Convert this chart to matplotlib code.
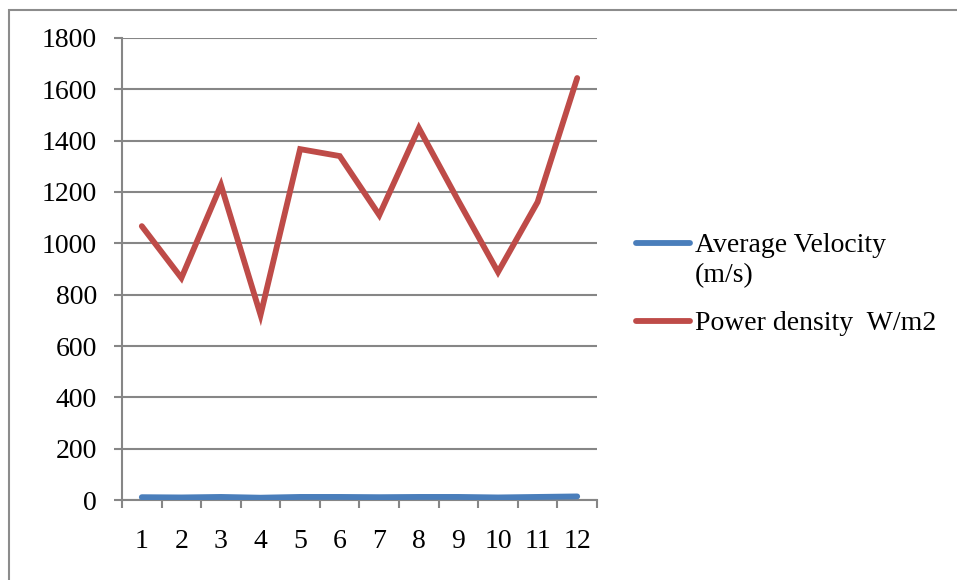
import matplotlib
matplotlib.use('Agg')
import matplotlib.pyplot as plt
from matplotlib.lines import Line2D
from matplotlib.patches import Rectangle
import numpy as np

plt.rcParams['font.family'] = ['Liberation Serif', 'DejaVu Serif']

months = [1, 2, 3, 4, 5, 6, 7, 8, 9, 10, 11, 12]
avg_velocity = [11, 10, 12, 9, 12, 12, 11, 12, 12, 10, 12, 14]
power_density = [1067, 865, 1227, 721, 1367, 1340, 1110, 1449, 1165, 888, 1161, 1644]
series_labels = ['Average Velocity\n(m/s)', 'Power density  W/m2']
series_colors = ['#4a7ebb', '#be4b48']

grid_grey = '#868686'
fs = 20

fig = plt.figure(figsize=(9.57, 5.8), dpi=100)
ax = fig.add_axes([0.1275, 0.1379, 0.4963, 0.7966])

x = np.arange(1, len(months) + 1)
ax.plot(x, avg_velocity, color=series_colors[0], lw=4.2, solid_capstyle='round',
        solid_joinstyle='miter', zorder=3)
ax.plot(x, power_density, color=series_colors[1], lw=4.2, solid_capstyle='round',
        solid_joinstyle='miter', zorder=3)

ax.set_xlim(0.5, len(months) + 0.5)
ax.set_ylim(0, 1800)
ax.set_yticks(np.arange(0, 1801, 200))
ax.set_xticks(x)
ax.set_xticklabels([str(m) for m in months])
ax.set_xticks(np.arange(0.5, len(months) + 1, 1), minor=True)

ax.grid(axis='y', color=grid_grey, lw=1.5)
ax.set_axisbelow(True)
for side in ['top', 'right']:
    ax.spines[side].set_visible(False)
for side in ['left', 'bottom']:
    ax.spines[side].set_color(grid_grey)
    ax.spines[side].set_linewidth(1.5)

ax.tick_params(axis='y', length=6, width=1.5, color=grid_grey, pad=12,
               labelsize=fs)
ax.tick_params(axis='x', which='major', length=0, pad=21, labelsize=fs)
ax.tick_params(axis='x', which='minor', length=6, width=1.5, color=grid_grey)

# legend drawn by hand so the line sits level with the first text row
legend_rows = [243, 321]
for label, color, ypix in zip(series_labels, series_colors, legend_rows):
    yf = 1 - ypix / 580
    fig.add_artist(Line2D([636 / 957, 690 / 957], [yf, yf], color=color, lw=4.2,
                          solid_capstyle='round', transform=fig.transFigure))
    for i, part in enumerate(label.split('\n')):
        base = ypix + 9 + 30 * i
        fig.text(695 / 957, 1 - base / 580, part, fontsize=fs, va='baseline',
                 ha='left', transform=fig.transFigure)

# outer chart frame
fig.add_artist(Rectangle((9 / 957, -0.1), 1.2, 1 - 10 / 580 + 0.1,
                         transform=fig.transFigure, fill=False,
                         edgecolor='#8c8c8c', lw=1.5))

fig.savefig('out.png', dpi=100)
